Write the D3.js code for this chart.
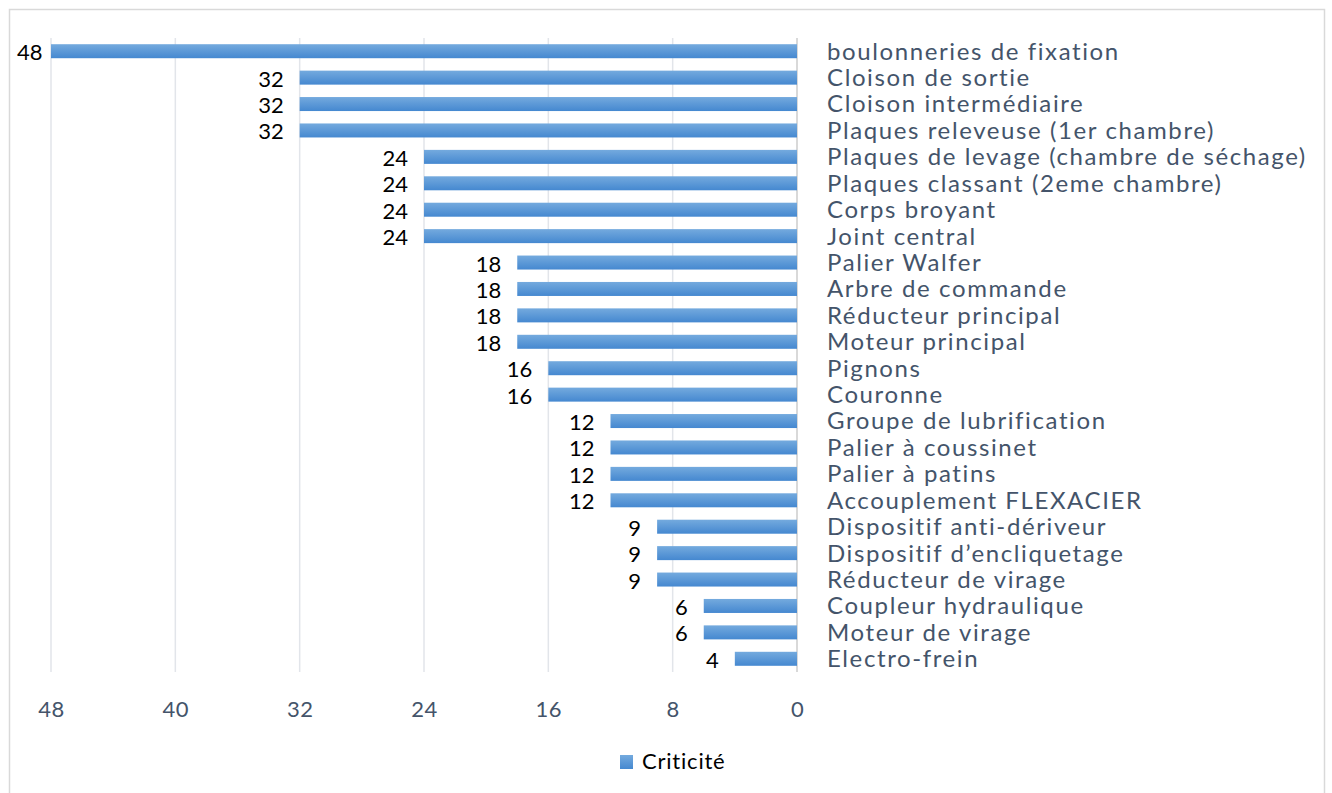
<!DOCTYPE html>
<html>
<head>
<meta charset="utf-8">
<script src="https://cdn.jsdelivr.net/npm/d3@7"></script>
<style>
  html, body { margin: 0; padding: 0; background: #fff; }
  svg { display: block; }
  text { font-variant-ligatures: none; }
</style>
</head>
<body>
<svg id="chart" width="1332" height="793"></svg>
<script>
const categories = [
  "boulonneries de fixation",
  "Cloison de sortie",
  "Cloison intermédiaire",
  "Plaques releveuse (1er chambre)",
  "Plaques de levage (chambre de séchage)",
  "Plaques classant (2eme chambre)",
  "Corps broyant",
  "Joint central",
  "Palier Walfer",
  "Arbre de commande",
  "Réducteur principal",
  "Moteur principal",
  "Pignons",
  "Couronne",
  "Groupe de lubrification",
  "Palier à coussinet",
  "Palier à patins",
  "Accouplement FLEXACIER",
  "Dispositif anti-dériveur",
  "Dispositif d’encliquetage",
  "Réducteur de virage",
  "Coupleur hydraulique",
  "Moteur de virage",
  "Electro-frein"
];
const criticite = [48, 32, 32, 32, 24, 24, 24, 24, 18, 18, 18, 18, 16, 16, 12, 12, 12, 12, 9, 9, 9, 6, 6, 4];
const xTicks = [48, 40, 32, 24, 16, 8, 0];
const seriesName = "Criticité";

const FONT = "Lato, 'Open Sans', sans-serif";
const svg = d3.select("#chart");

// chart frame
svg.append("rect")
  .attr("x", 9.5).attr("y", 9.5)
  .attr("width", 1315).attr("height", 800)
  .attr("fill", "#fff").attr("stroke", "#d9d9d9").attr("stroke-width", 1.5);

const defs = svg.append("defs");
const grad = defs.append("linearGradient")
  .attr("id", "barGrad").attr("x1", 0).attr("y1", 0).attr("x2", 0).attr("y2", 1);
grad.append("stop").attr("offset", "0%").attr("stop-color", "#74aade");
grad.append("stop").attr("offset", "100%").attr("stop-color", "#4588d0");

const plot = { left: 51, right: 797, top: 38, bottom: 672 };

// reversed value axis: largest value on the left
const x = d3.scaleLinear().domain([48, 0]).range([plot.left, plot.right]);
const y = d3.scaleBand().domain(categories).range([plot.top, plot.bottom]).paddingInner(0.47).paddingOuter(0.235);

// vertical gridlines
svg.append("g")
  .selectAll("line").data(xTicks).join("line")
  .attr("x1", d => x(d)).attr("x2", d => x(d))
  .attr("y1", plot.top).attr("y2", plot.bottom)
  .attr("stroke", d => d === 0 ? "#d9d9d9" : "#e2e5ea")
  .attr("stroke-width", d => d === 0 ? 2 : 1.5);

// bottom axis labels
const xAxis = d3.axisBottom(x).tickValues(xTicks).tickSize(0).tickPadding(0);
const gx = svg.append("g").attr("transform", `translate(0, ${plot.bottom + 29})`).call(xAxis);
gx.select(".domain").remove();
gx.selectAll("text")
  .attr("font-family", FONT).attr("font-size", 22).attr("fill", "#44546a")
  .attr("letter-spacing", 0.5);

// bars
svg.append("g")
  .selectAll("rect").data(criticite).join("rect")
  .attr("x", d => x(d))
  .attr("y", (d, i) => y(categories[i]))
  .attr("width", d => x(0) - x(d))
  .attr("height", y.bandwidth())
  .attr("fill", "url(#barGrad)");

// value labels at bar ends, kept inside the frame
const frameInnerLeft = 17;
svg.append("g")
  .selectAll("text").data(criticite).join("text")
  .attr("y", (d, i) => y(categories[i]) + y.bandwidth() / 2 + 9)
  .attr("text-anchor", "end")
  .attr("font-family", FONT).attr("font-size", 22).attr("fill", "#000")
  .text(d => d)
  .each(function(d) {
    const w = this.getComputedTextLength();
    const right = Math.max(x(d) - 16, frameInnerLeft + w);
    d3.select(this).attr("x", right);
  });

// category labels on the right side
const yAxis = d3.axisRight(y).tickSize(0).tickPadding(0);
const gy = svg.append("g").attr("transform", `translate(827, 0)`).call(yAxis);
gy.select(".domain").remove();
gy.selectAll("text")
  .attr("font-family", FONT).attr("font-size", 24).attr("fill", "#44546a")
  .attr("letter-spacing", 1.6)
  .attr("dy", "0.35em");

// legend
const legend = svg.append("g").attr("transform", "translate(620, 755)");
legend.append("rect").attr("width", 13).attr("height", 14).attr("fill", "url(#barGrad)");
legend.append("text")
  .attr("x", 22).attr("y", 14)
  .attr("font-family", FONT).attr("font-size", 22).attr("fill", "#000")
  .attr("letter-spacing", 0.8)
  .text(seriesName);
</script>
</body>
</html>
